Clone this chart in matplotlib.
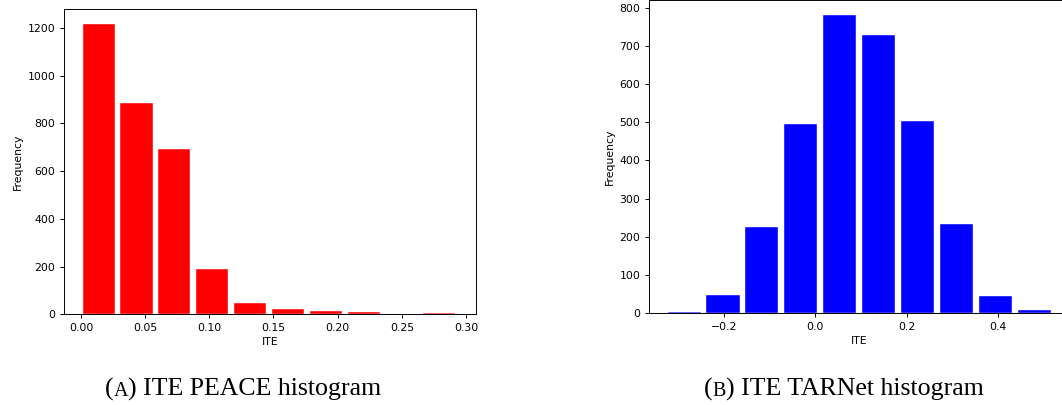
import numpy as np
import matplotlib
matplotlib.use('Agg')
import matplotlib.pyplot as plt

# bin counts (10 bins each)
peace_counts = [1218, 887, 692, 188, 46, 21, 12, 8, 0, 4]
peace_range = (-0.001, 0.294)
tarnet_counts = [4, 47, 226, 495, 780, 729, 503, 233, 45, 8]
tarnet_range = (-0.330, 0.5216)

peace_xticks = [0.00, 0.05, 0.10, 0.15, 0.20, 0.25, 0.30]
tarnet_xticks = [-0.2, 0.0, 0.2, 0.4]

W, H = 1062, 405
fig = plt.figure(figsize=(W / 100, H / 100), dpi=100)
plt.rcParams['font.size'] = 7.8


def px_axes(x0, x1, ytop, ybot):
    return fig.add_axes([x0 / W, (H - ybot) / H, (x1 - x0) / W, (ybot - ytop) / H])


def draw_hist(ax, counts, rng, color, ticks, xlim):
    edges = np.linspace(rng[0], rng[1], len(counts) + 1)
    centers = (edges[:-1] + edges[1:]) / 2
    ax.hist(centers, bins=edges, weights=counts, color=color, rwidth=0.85,
            edgecolor='white', linewidth=0.3)
    ax.set_xticks(ticks)
    ax.set_xlim(xlim)
    ax.set_xlabel('ITE', fontsize=7.8, labelpad=3)
    ax.set_ylabel('Frequency', fontsize=7.8, labelpad=3)
    ax.tick_params(labelsize=7.8, length=3, width=0.7)
    for s in ax.spines.values():
        s.set_linewidth(0.7)


ax1 = px_axes(64.3, 476, 9, 314.3)
draw_hist(ax1, peace_counts, peace_range, 'red', peace_xticks, (-0.013, 0.3078))
ax1.set_xticklabels(['%.2f' % t for t in peace_xticks])

ax2 = px_axes(649.3, 1069, 0.3, 313.3)
draw_hist(ax2, tarnet_counts, tarnet_range, 'blue', tarnet_xticks, (-0.3637, 0.5555))
ax2.set_yticks(range(0, 900, 100))
ax2.set_ylim(0, 819)

# captions with a small-cap panel letter
renderer = fig.canvas.get_renderer()


def caption(xc, y, letter, rest, size=18.6):
    parts = [('(', size), (letter, size * 0.78), (') ' + rest, size)]
    texts = []
    for s, fs in parts:
        t = fig.text(0, y / H, s, fontsize=fs, family='Liberation Serif',
                     ha='left', va='baseline')
        texts.append(t)
    widths = [t.get_window_extent(renderer).width for t in texts]
    x = xc - sum(widths) / 2
    for t, w in zip(texts, widths):
        t.set_x(x / W)
        x += w


caption(243.5, H - 396, 'A', 'ITE PEACE histogram')
caption(844, H - 396, 'B', 'ITE TARNet histogram')

fig.savefig('out.png', dpi=100)
